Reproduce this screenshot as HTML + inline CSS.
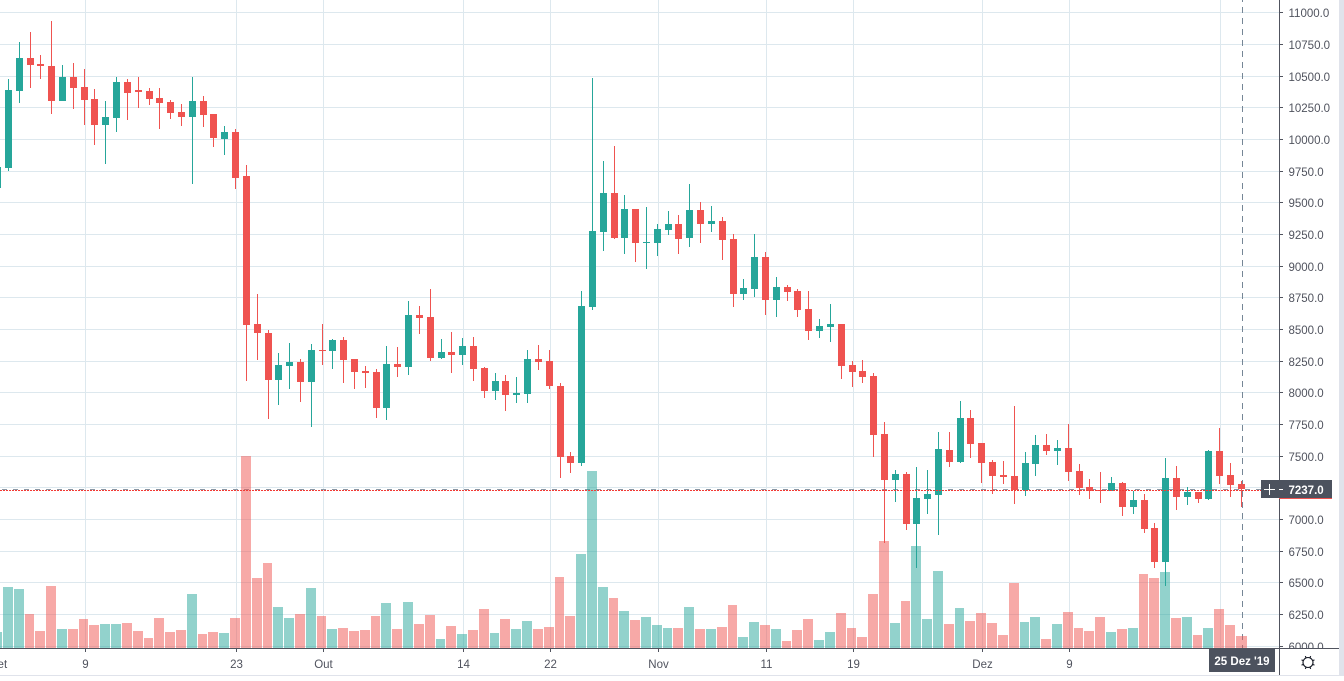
<!DOCTYPE html>
<html lang="pt">
<head>
<meta charset="utf-8">
<title>BTC candlestick chart</title>
<style>
html,body{margin:0;padding:0;background:#fff;width:1344px;height:681px;overflow:hidden}
svg{display:block;font-family:"Liberation Sans",Arial,sans-serif}
.price{font-size:11.5px;fill:#50535e}
.time{font-size:11.5px;fill:#50535e;text-anchor:middle}
</style>
</head>
<body>
<svg id="chart" xmlns="http://www.w3.org/2000/svg" width="1344" height="681" viewBox="0 0 1344 681">
  <g id="grid" shape-rendering="crispEdges"></g>
  <g id="crossH"></g>
  <g id="volumes" shape-rendering="crispEdges"></g>
  <g id="candles" shape-rendering="crispEdges"></g>
  <g id="overlay"></g>
  <g id="priceAxis" shape-rendering="auto"></g>
  <g id="timeAxis"></g>
  <g id="labels"></g>
  <g id="settings" fill="none" stroke="#131722" stroke-width="1.1"></g>
</svg>
<script>
// ---- chart data (first entry is 1 Sep 2019, last is 25 Dec 2019) ----
const priceOpen = [9610,
9771,10379,10639,10592,10576,10300,10489,10411,10316,10111,
10166,10450,10387,10379,10324,10292,10213,10174,10300,10197,
10000,10055,9708,8541,8470,8099,8209,8241,8083,8335,
8327,8414,8265,8170,8162,7878,8225,8201,8612,8596,
8272,8320,8296,8367,8194,8012,8091,7981,7988,8265,
8249,8052,7499,7444,8675,9267,9575,9219,9448,9180,
9180,9283,9330,9219,9440,9330,9354,9212,8778,8817,
9070,8730,8833,8801,8659,8485,8517,8541,8217,8170,
8130,7673,7310,7357,6963,7160,7191,7546,7452,7799,
7602,7452,7349,7341,7231,7436,7586,7539,7562,7381,
7255,7231,7218,7286,7097,7152,6931,6663,7325,7176,
7215,7160,7538,7349,7278];
const priceHigh = [9780,
10474,10766,10845,10663,10931,10584,10600,10553,10395,10300,
10489,10474,10489,10403,10403,10308,10276,10489,10340,10197,
10103,10079,9795,8777,8493,8312,8391,8265,8383,8541,
8422,8438,8265,8209,8186,8367,8359,8722,8683,8817,
8422,8478,8430,8438,8201,8154,8138,8123,8336,8375,
8336,8075,7531,8801,10482,9827,9945,9559,9448,9464,
9330,9432,9401,9646,9503,9472,9385,9251,8896,9251,
9109,8912,8849,8817,8801,8580,8699,8541,8249,8257,
8154,7767,7389,7373,7412,7389,7689,7689,7933,7862,
7602,7468,7460,7894,7531,7665,7673,7625,7752,7436,
7318,7373,7333,7294,7223,7199,6970,7483,7420,7254,
7215,7546,7720,7444,7302];
const priceLow = [9610,
9748,10284,10403,10474,10198,10300,10237,10111,9953,9803,
10055,10150,10245,10269,10079,10158,10103,9645,10095,9937,
9874,9606,8091,8257,7791,7902,8028,7925,7728,8217,
8186,8075,8028,8036,7799,7783,8123,8138,8462,8249,
8265,8154,8217,8091,7957,7941,7854,7917,7917,8178,
8028,7326,7365,7420,8651,9117,9212,9093,9030,8975,
9077,9243,9093,9148,9180,9267,9046,8675,8730,8754,
8612,8596,8722,8596,8414,8430,8399,8107,8044,8075,
7491,6813,7136,6915,6615,7041,6876,7412,7444,7483,
7286,7199,7278,7120,7184,7341,7507,7428,7302,7192,
7160,7128,7218,7026,7041,6892,6615,6473,7073,7112,
7128,7152,7278,7176,7097];
const priceClose = [9780,
10387,10639,10584,10576,10300,10489,10403,10308,10111,10174,
10450,10363,10371,10316,10284,10205,10174,10300,10190,10008,
10055,9693,8533,8470,8099,8217,8241,8083,8335,8327,
8414,8257,8162,8154,7878,8225,8201,8612,8588,8272,
8320,8296,8367,8186,8012,8091,7981,7996,8265,8241,
8052,7491,7444,8683,9275,9575,9219,9448,9180,9188,
9291,9330,9212,9440,9330,9354,9204,8778,8825,9070,
8730,8833,8793,8651,8485,8525,8541,8209,8162,8123,
7665,7310,7357,6963,7168,7199,7554,7452,7799,7594,
7444,7341,7333,7231,7444,7586,7539,7562,7373,7247,
7223,7218,7286,7097,7152,6923,6663,7325,7176,7215,
7160,7538,7341,7270,7237];
const volumeValues = [48,
183,177,102,51,186,57,57,87,69,72,
72,75,51,30,90,48,54,162,42,48,
45,90,576,210,255,123,90,102,180,96,
57,60,51,54,96,135,57,138,72,99,
27,66,42,54,117,45,87,57,81,57,
63,213,96,282,531,183,150,111,84,93,
69,60,60,123,57,57,63,129,33,78,
69,57,21,54,87,24,48,105,60,33,
162,321,75,141,306,87,231,72,120,81,
105,75,39,195,78,93,27,72,108,60,
51,93,48,57,60,222,210,228,90,93,
39,60,117,69,36];
const priceTicks = [11000,10750,10500,10250,10000,9750,9500,9250,9000,8750,8500,8250,8000,7750,7500,7250,7000,6750,6500,6250,6000];
const timeTickDays = [0,8,22,30,43,51,61,71,79,91,99,113];
const timeTickLabels = ['Set','9','23','Out','14','22','Nov','11','19','Dez','9','23'];
const lastPrice = 7237;
const crosshairDay = 115;
const crosshairDateLabel = "25 Dez '19";

// ---- scales ----
const AXIS_X = 1279, AXIS_Y = 648, RIGHT_EDGE = 1339, BOTTOM_EDGE = 675;
function xDay(d){ return -2.365 + 10.815 * d; }
function yPrice(p){ return 12.3 + (11000 - p) * 0.12668; }
function yVolume(v){ return AXIS_Y - v / 3; }

const NS = 'http://www.w3.org/2000/svg';
const UP = '#26a69a', DOWN = '#ef5350';
function mk(parent, tag, attrs, text){
  const el = document.createElementNS(NS, tag);
  for (const k in attrs) el.setAttribute(k, attrs[k]);
  if (text !== undefined) el.textContent = text;
  parent.appendChild(el);
  return el;
}
const gGrid = document.getElementById('grid');
const gCross = document.getElementById('crossH');
const gVol = document.getElementById('volumes');
const gCan = document.getElementById('candles');
const gOver = document.getElementById('overlay');
const gPrice = document.getElementById('priceAxis');
const gTime = document.getElementById('timeAxis');
const gLab = document.getElementById('labels');
const gSet = document.getElementById('settings');

// grid
priceTicks.forEach(function(p){
  const r = Math.round(yPrice(p)) + 0.5;
  const l = mk(gGrid, 'line', {x1:0, x2:AXIS_X, y1:r, y2:r, stroke:'#dde8ee'});
  
  
});
timeTickDays.forEach(function(d){
  if (d === 0) return;
  const c = Math.floor(xDay(d)) + 1.5;
  const l = mk(gGrid, 'line', {x1:c, x2:c, y1:0, y2:AXIS_Y, stroke:'#dde8ee'});
  
  
});

// crosshair (behind the candles) sits on the row at the price; last-price line one row below
const priceRow = Math.round(yPrice(lastPrice));
const chH = mk(gCross, 'line', {x1:2, x2:AXIS_X, y1:priceRow + 0.5, y2:priceRow + 0.5, stroke:'#8a98a5', 'stroke-dasharray':'5 6', 'shape-rendering':'crispEdges'});


const chXpos = Math.floor(xDay(crosshairDay)) + 1.5;
const chV = mk(gCross, 'line', {x1:chXpos, x2:chXpos, y1:-4, y2:AXIS_Y, stroke:'#758696', 'stroke-dasharray':'6 5', 'shape-rendering':'crispEdges'});



// volumes
volumeValues.forEach(function(v, i){
  const left = Math.floor(xDay(i)) - 5;
  const nextLeft = i + 1 < volumeValues.length ? Math.floor(xDay(i + 1)) - 5 : left + 12;
  const top = Math.round(yVolume(v));
  const up = priceClose[i] >= priceOpen[i];
  const r = mk(gVol, 'rect', {x:left, y:top, width:nextLeft - left - 1, height:AXIS_Y - top, fill:up ? UP : DOWN, 'fill-opacity':0.5});
  
  
});

// candles
priceOpen.forEach(function(o, i){
  const c = priceClose[i];
  const up = c >= o;
  const col = up ? UP : DOWN;
  const cx = Math.floor(xDay(i));
  const hi = Math.round(yPrice(priceHigh[i]));
  const lo = Math.round(yPrice(priceLow[i]));
  const top = Math.round(yPrice(Math.max(o, c)));
  const bot = Math.round(yPrice(Math.min(o, c)));
  const w = mk(gCan, 'rect', {x:cx, y:hi, width:1, height:Math.max(lo - hi, 1), fill:col});
  
  
  const b = mk(gCan, 'rect', {x:cx - 3, y:top, width:7, height:Math.max(bot - top, 1), fill:col});
  
  
});

// last price dotted line
const lastRow = priceRow + 1.5;
const lpl = mk(gOver, 'line', {x1:0, x2:AXIS_X, y1:lastRow, y2:lastRow, stroke:'#f23a35', 'stroke-dasharray':'2 1', 'shape-rendering':'crispEdges'});



// price axis
const bgP = mk(gPrice, 'rect', {x:AXIS_X, y:0, width:RIGHT_EDGE - AXIS_X, height:BOTTOM_EDGE, fill:'#fff'});


priceTicks.forEach(function(p){
  const r = Math.round(yPrice(p));
  const t = mk(gPrice, 'rect', {x:AXIS_X, y:r, width:4, height:1, fill:'#50535e', 'shape-rendering':'crispEdges'});
  
  
  const lbl = mk(gPrice, 'text', {x:1288.5, y:r + 5, 'class':'price'}, p.toFixed(1));
  
  
});

// time axis (covers clipped bottom of the 6000.0 label)
const bgT = mk(gTime, 'rect', {x:0, y:AXIS_Y, width:RIGHT_EDGE, height:BOTTOM_EDGE - AXIS_Y, fill:'#fff'});


timeTickDays.forEach(function(d, i){
  const px = Math.floor(xDay(d)) + 1;
  const t = mk(gTime, 'rect', {x:px, y:AXIS_Y, width:1, height:4, fill:'#50535e', 'shape-rendering':'crispEdges'});
  
  
  const lbl = mk(gTime, 'text', {x:px + 0.5, y:668, 'class':'time'}, timeTickLabels[i]);
  
  
});
const axH = mk(gTime, 'rect', {x:0, y:AXIS_Y, width:RIGHT_EDGE, height:1, fill:'#50535e', 'shape-rendering':'crispEdges'});


const axV = mk(gTime, 'rect', {x:AXIS_X, y:0, width:1, height:BOTTOM_EDGE, fill:'#50535e', 'shape-rendering':'crispEdges'});


const frB = mk(gTime, 'rect', {x:0, y:BOTTOM_EDGE, width:1344, height:1, fill:'#e0e3eb', 'shape-rendering':'crispEdges'});


const frR = mk(gTime, 'rect', {x:RIGHT_EDGE, y:0, width:1344 - RIGHT_EDGE, height:BOTTOM_EDGE + 1, fill:'#e0e3eb', 'shape-rendering':'crispEdges'});



// crosshair labels
const boxTop = priceRow - 9;
const priceBox = mk(gLab, 'rect', {x:1261, y:boxTop, width:71, height:18, fill:'#4c525e', 'shape-rendering':'crispEdges'});


const redUnder = mk(gLab, 'rect', {x:AXIS_X, y:boxTop + 18, width:53, height:1, fill:'#ef5350', 'shape-rendering':'crispEdges'});


const plusH = mk(gLab, 'rect', {x:1264, y:boxTop + 9, width:11, height:1, fill:'#fff', 'shape-rendering':'crispEdges'});


const plusV = mk(gLab, 'rect', {x:1269, y:boxTop + 4, width:1, height:11, fill:'#fff', 'shape-rendering':'crispEdges'});


const whTick = mk(gLab, 'rect', {x:AXIS_X, y:boxTop + 9, width:4, height:1, fill:'#fff', 'shape-rendering':'crispEdges'});


const priceTxt = mk(gLab, 'text', {x:1288.5, y:boxTop + 14, 'font-size':'11.5px', 'font-weight':'bold', fill:'#fff'}, lastPrice.toFixed(1));


const dateBox = mk(gLab, 'rect', {x:1209, y:649, width:66, height:23, fill:'#4c525e', 'shape-rendering':'crispEdges'});


const dateTxt = mk(gLab, 'text', {x:1242, y:665, 'font-size':'11.5px', 'font-weight':'bold', 'text-anchor':'middle', fill:'#fff'}, crosshairDateLabel);



// settings icon
mk(gSet, 'circle', {cx:1308, cy:662.5, r:5});
for (let a = 0; a < 8; a++){
  const ang = a * Math.PI / 4 + Math.PI / 8;
  mk(gSet, 'line', {x1:1308 + 5 * Math.cos(ang), y1:662.5 + 5 * Math.sin(ang), x2:1308 + 7 * Math.cos(ang), y2:662.5 + 7 * Math.sin(ang)});
}
</script>
</body>
</html>
